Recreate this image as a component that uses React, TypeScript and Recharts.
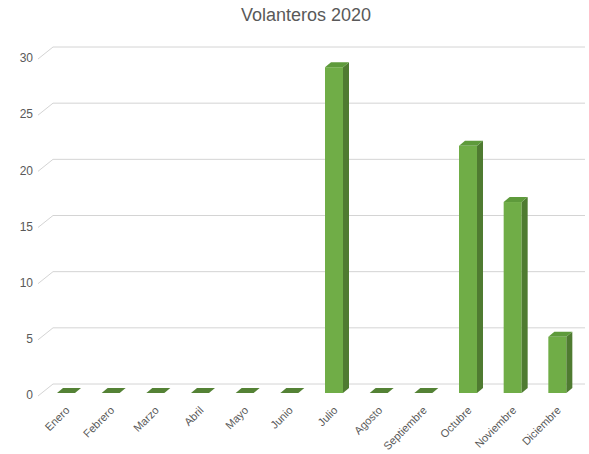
import React from 'react';
import { BarChart, Bar, XAxis, YAxis, CartesianGrid } from 'recharts';

const months = ['Enero', 'Febrero', 'Marzo', 'Abril', 'Mayo', 'Junio', 'Julio', 'Agosto', 'Septiembre', 'Octubre', 'Noviembre', 'Diciembre'];
const volunteers = [0, 0, 0, 0, 0, 0, 29, 0, 0, 22, 17, 5];
const yTicks = [0, 5, 10, 15, 20, 25, 30];

const data = months.map((month, i) => ({ month, value: volunteers[i] }));

const FONT = '"Liberation Sans", Arial, sans-serif';
const TEXT = '#595959';
const GRID = '#D4D4D4';
const DX = 6;
const DY = 5;

// fake 3D bar: front, side and top faces
const Bar3D = (props: any) => {
  const { x, y, width, height } = props;
  const top = `M${x},${y} L${x + width},${y} L${x + width + DX},${y - DY} L${x + DX},${y - DY} Z`;
  if (!height || height < 1) {
    return <path d={top} fill="#548235" />;
  }
  const side = `M${x + width},${y} L${x + width + DX},${y - DY} L${x + width + DX},${y + height - DY} L${x + width},${y + height} Z`;
  return (
    <g>
      <rect x={x} y={y} width={width} height={height} fill="#70AD47" />
      <path d={side} fill="#4F7B31" />
      <path d={top} fill="#5E9A3B" />
    </g>
  );
};

// back wall grid line
const GridLine = (props: any) => {
  const { x1, x2, y1 } = props;
  return (
    <line
      key={props.key ?? `g-${y1}`}
      x1={x1 + 9}
      y1={y1 - 9}
      x2={x2 + 5}
      y2={y1 - 9}
      stroke={GRID}
      strokeWidth={1}
    />
  );
};

// tick label plus the short slanted floor edge at the left of the wall
const YTick = (props: any) => {
  const { y, payload } = props;
  return (
    <g>
      <line x1={38} y1={y + 3} x2={53} y2={y - 9} stroke={GRID} strokeWidth={1} />
      <text x={33} y={y + 3} textAnchor="end" dominantBaseline="middle" fill={TEXT} fontSize={12} fontFamily={FONT}>
        {payload.value}
      </text>
    </g>
  );
};

const XTick = (props: any) => {
  const { x, y, payload } = props;
  return (
    <g transform={`translate(${x + 4},${y + 10})`}>
      <text textAnchor="end" transform="rotate(-45)" fill={TEXT} fontSize={11} fontFamily={FONT}>
        {payload.value}
      </text>
    </g>
  );
};

const App: React.FC = () => {
  return (
    <div style={{ position: 'absolute', left: 0, top: 0, width: 589, height: 454, background: '#fff' }}>
      <div
        style={{
          position: 'absolute',
          left: 0,
          top: 5,
          width: 612,
          textAlign: 'center',
          fontFamily: FONT,
          fontSize: 18,
          color: TEXT,
        }}
      >
        Volanteros 2020
      </div>
      <BarChart
        width={589}
        height={454}
        data={data}
        margin={{ top: 56, right: 9, left: 0, bottom: 0 }}
        barSize={18}
      >
        <CartesianGrid vertical={false} horizontal={GridLine} />
        <XAxis
          dataKey="month"
          axisLine={false}
          tickLine={false}
          interval={0}
          height={61}
          tick={<XTick />}
        />
        <YAxis
          domain={[0, 30]}
          ticks={yTicks}
          axisLine={false}
          tickLine={false}
          width={44}
          tick={<YTick />}
        />
        <Bar dataKey="value" shape={<Bar3D />} isAnimationActive={false} />
      </BarChart>
    </div>
  );
};

export default App;
